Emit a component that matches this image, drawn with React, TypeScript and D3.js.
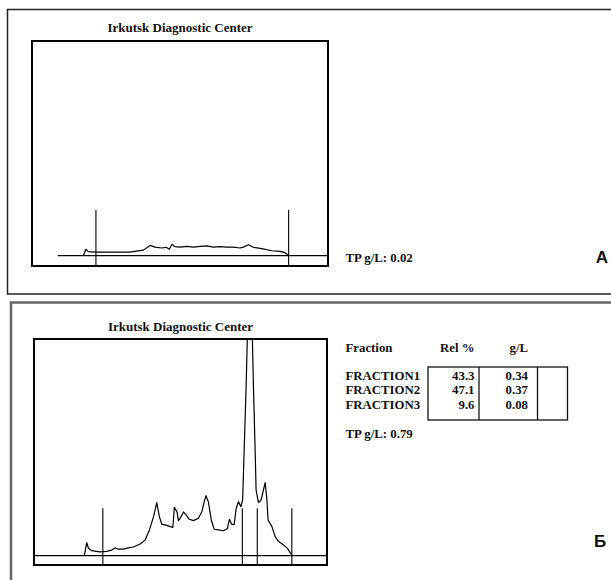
import React from "react";
import * as d3 from "d3";

// ---------- DATA ----------
const titleText = "Irkutsk Diagnostic Center";

// Panel A densitogram (x: relative mobility 0..100, y: absorbance 0..100 of plot height)
const curveAX = [17.4, 18.2, 19.0, 21.6, 27.4, 33.1, 37.6, 39.9, 41.6, 43.8, 45.3, 46.4, 47.3, 48.3, 50.0, 52.3, 54.5, 56.8, 59.0, 61.2, 63.5, 65.8, 68.0, 70.3, 71.4, 73.1, 74.8, 77.6, 81.0, 83.8, 85.5, 86.6];
const curveAY = [0.2, 3.0, 1.9, 1.7, 1.7, 1.7, 2.6, 4.8, 4.0, 3.6, 3.9, 3.0, 5.3, 4.2, 4.0, 4.3, 4.0, 4.3, 4.6, 4.0, 4.2, 4.0, 4.0, 3.6, 4.0, 5.1, 3.9, 3.3, 2.3, 2.0, 1.4, 0.2];
const markersA = [21.6, 86.7];
const baselineStartA = 8.7;
const markerHeightA = 21.3;
const tpA = "TP g/L: 0.02";
const labelA = "А";

// Panel B densitogram
const curveBX = [17.2, 18.0, 18.6, 19.7, 22.5, 24.8, 26.5, 27.7, 28.8, 30.5, 32.2, 33.9, 36.2, 37.9, 39.4, 40.8, 41.9, 42.8, 43.6, 45.3, 46.5, 47.4, 47.9, 48.8, 49.3, 50.1, 51.0, 51.9, 53.0, 54.4, 56.1, 57.3, 58.1, 58.7, 59.5, 60.5, 61.5, 63.0, 64.7, 66.0, 66.7, 67.4, 68.3, 69.0, 69.8, 70.6, 71.2, 71.7, 72.4, 73.7, 74.9, 75.5, 75.8, 76.6, 77.5, 78.3, 78.9, 79.5, 79.9, 81.2, 82.3, 83.5, 85.2, 86.5, 88.0];
const curveBY = [0.3, 6.0, 3.4, 2.3, 1.8, 2.0, 2.6, 3.6, 3.0, 3.0, 3.6, 4.0, 5.4, 7.2, 11.9, 18.0, 24.5, 18.0, 14.6, 14.0, 13.4, 13.1, 22.3, 20.3, 16.2, 17.7, 20.2, 18.8, 16.8, 16.2, 17.3, 20.3, 24.9, 27.7, 24.9, 16.5, 12.2, 11.9, 11.5, 12.6, 16.8, 14.6, 14.3, 21.9, 24.9, 22.6, 25.7, 47.3, 78.0, 150.0, 78.0, 47.3, 30.3, 24.5, 25.7, 30.3, 33.7, 25.7, 16.5, 13.4, 8.8, 6.5, 4.9, 3.4, 0.3];
const markersB = [23.5, 71.1, 76.2, 88.0];
const baselineStartB = 0;
const markerHeightB = 21.9;
const tpB = "TP g/L: 0.79";
const labelB = "Б";

// Fraction table (panel B)
const tableHeaders = ["Fraction", "Rel %", "g/L"];
const fractionNames = ["FRACTION1", "FRACTION2", "FRACTION3"];
const relPercent = ["43.3", "47.1", "9.6"];
const gramsPerL = ["0.34", "0.37", "0.08"];

// ---------- LAYOUT ----------
const W = 611;
const H = 580;
const serif = "'Liberation Serif', 'Times New Roman', serif";
const sans = "'Liberation Sans', Arial, sans-serif";

type PanelProps = {
  id: string;
  box: { x0: number; x1: number; y0: number; y1: number; base: number };
  xs: number[];
  ys: number[];
  markers: number[];
  markerH: number;
  baseStart: number;
  titleY: number;
};

function Densitogram({ id, box, xs, ys, markers, markerH, baseStart, titleY }: PanelProps) {
  const x = d3.scaleLinear().domain([0, 100]).range([box.x0, box.x1]);
  const y = d3.scaleLinear().domain([0, 100]).range([box.base, box.y0]);
  const pts: [number, number][] = xs.map((v, i) => [v, ys[i]]);
  const line = d3
    .line<[number, number]>()
    .x((d) => x(d[0]))
    .y((d) => y(d[1]))
    .curve(d3.curveLinear);
  return (
    <g>
      <defs>
        <clipPath id={id}>
          <rect x={box.x0} y={box.y0} width={box.x1 - box.x0} height={box.y1 - box.y0} />
        </clipPath>
      </defs>
      <text
        x={(box.x0 + box.x1) / 2}
        y={titleY}
        textAnchor="middle"
        fontFamily={serif}
        fontWeight="bold"
        fontSize={13}
        fill="#111"
      >
        {titleText}
      </text>
      <g clipPath={`url(#${id})`}>
        <path d={line(pts) || ""} fill="none" stroke="#000" strokeWidth={1.2} strokeLinejoin="round" />
      </g>
      <line x1={x(baseStart)} x2={box.x1} y1={box.base} y2={box.base} stroke="#000" strokeWidth={1.3} />
      {markers.map((m, i) => (
        <line key={i} x1={x(m)} x2={x(m)} y1={y(markerH)} y2={box.y1} stroke="#000" strokeWidth={1.1} />
      ))}
      <rect
        x={box.x0}
        y={box.y0}
        width={box.x1 - box.x0}
        height={box.y1 - box.y0}
        fill="none"
        stroke="#000"
        strokeWidth={2}
      />
    </g>
  );
}

export default function App() {
  const boxA = { x0: 32, x1: 328, y0: 41, y1: 266, base: 255.7 };
  const boxB = { x0: 34, x1: 327, y0: 339, y1: 565, base: 555.7 };

  const colRel = 474.5;
  const colG = 528;
  const rowY = [379.5, 394, 408.5];
  const tableText = { fontFamily: serif, fontWeight: "bold" as const, fontSize: 12.8, fill: "#111" };

  return (
    <svg
      width={W}
      height={H}
      style={{ position: "absolute", left: 0, top: 0, display: "block", background: "#fff" }}
    >
      <rect x={0} y={0} width={W} height={H} fill="#fff" />
      {/* Panel A frame */}
      <rect x={7.5} y={9.5} width={620} height={284.5} fill="none" stroke="#222" strokeWidth={1.5} />
      {/* Panel B frame */}
      <rect x={11} y={302.5} width={620} height={300} fill="none" stroke="#666" strokeWidth={2.5} />

      <Densitogram
        id="clipA"
        box={boxA}
        xs={curveAX}
        ys={curveAY}
        markers={markersA}
        markerH={markerHeightA}
        baseStart={baselineStartA}
        titleY={32}
      />
      <text x={345.5} y={261.5} {...tableText}>
        {tpA}
      </text>
      <text x={602} y={263} textAnchor="middle" fontFamily={sans} fontWeight="bold" fontSize={17} fill="#111">
        {labelA}
      </text>

      <Densitogram
        id="clipB"
        box={boxB}
        xs={curveBX}
        ys={curveBY}
        markers={markersB}
        markerH={markerHeightB}
        baseStart={baselineStartB}
        titleY={331}
      />

      {/* Table */}
      <text x={345.5} y={352} {...tableText}>
        {tableHeaders[0]}
      </text>
      <text x={colRel} y={352} textAnchor="end" {...tableText}>
        {tableHeaders[1]}
      </text>
      <text x={colG} y={352} textAnchor="end" {...tableText}>
        {tableHeaders[2]}
      </text>
      {fractionNames.map((f, i) => (
        <g key={f}>
          <text x={345.5} y={rowY[i]} {...tableText}>
            {f}
          </text>
          <text x={colRel} y={rowY[i]} textAnchor="end" {...tableText}>
            {relPercent[i]}
          </text>
          <text x={colG} y={rowY[i]} textAnchor="end" {...tableText}>
            {gramsPerL[i]}
          </text>
        </g>
      ))}
      <rect x={428} y={367} width={139.5} height={53} fill="none" stroke="#111" strokeWidth={1.3} />
      <line x1={479} x2={479} y1={367} y2={420} stroke="#111" strokeWidth={1.3} />
      <line x1={537.5} x2={537.5} y1={367} y2={420} stroke="#111" strokeWidth={1.3} />
      <text x={345.5} y={438} {...tableText}>
        {tpB}
      </text>
      <text x={600} y={547} textAnchor="middle" fontFamily={sans} fontWeight="bold" fontSize={17} fill="#111">
        {labelB}
      </text>
    </svg>
  );
}
